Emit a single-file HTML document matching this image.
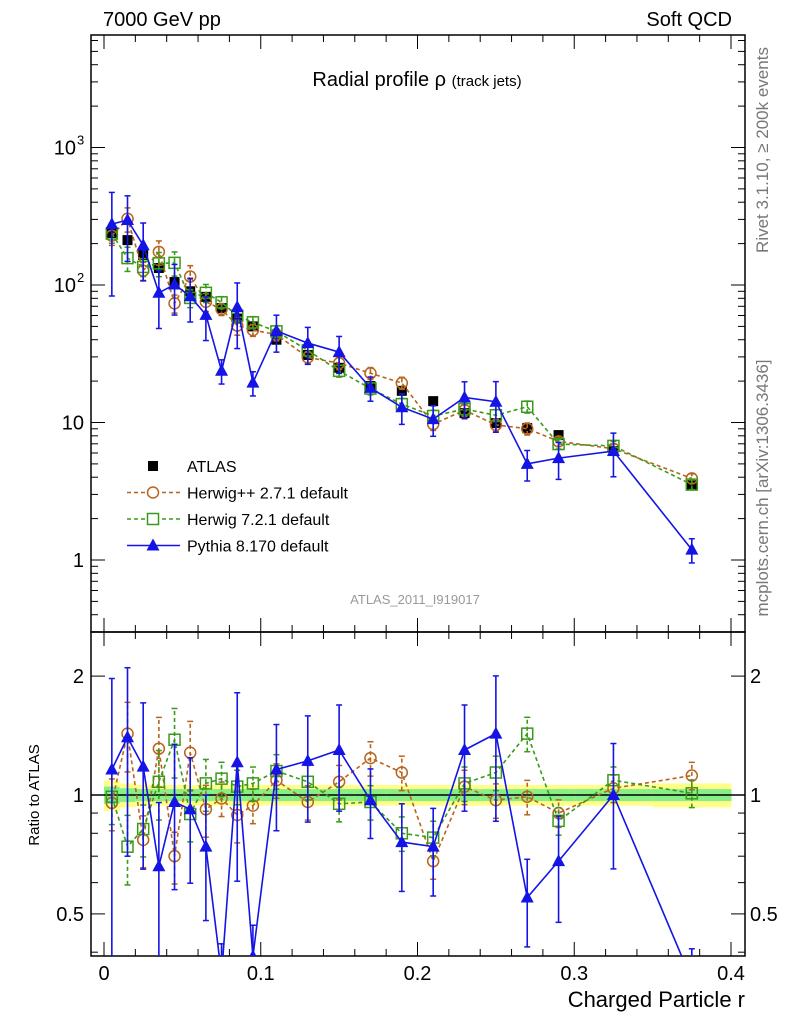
<!DOCTYPE html>
<html><head><meta charset="utf-8"><style>
body{margin:0;background:#fff;}
svg{display:block;font-family:"Liberation Sans","DejaVu Sans",sans-serif;}
</style></head><body>
<svg id="c" width="786" height="1024" viewBox="0 0 786 1024"></svg>
<script>
const xCenters=[0.005,0.015,0.025,0.035,0.045,0.055,0.065,0.075,0.085,0.095,0.11,0.13,0.15,0.17,0.19,0.21,0.23,0.25,0.27,0.29,0.325,0.375];
const atlasVals=[239,212,165,133,105,90,82,68,57,50,40,31,25,18.4,17,14.3,11.7,9.9,9.1,8.1,6.2,3.5];
const herwigppRatio=[0.955,1.43,0.77,1.31,0.70,1.28,0.92,0.98,0.89,0.94,1.09,0.96,1.08,1.24,1.14,0.68,1.05,0.97,0.99,0.9,1.04,1.12];
const herwig7Ratio=[0.99,0.74,0.82,1.08,1.38,0.895,1.07,1.1,1.05,1.07,1.15,1.08,0.95,0.96,0.8,0.78,1.07,1.14,1.43,0.86,1.09,1.01];
const pythiaRatio=[1.16,1.4,1.18,0.66,0.96,0.92,0.74,0.35,1.21,0.39,1.16,1.22,1.3,0.97,0.76,0.74,1.3,1.43,0.55,0.68,1.0,0.34];
const pythiaErr=[0.7,0.5,0.45,0.45,0.4,0.35,0.35,0.2,0.5,0.2,0.3,0.3,0.3,0.2,0.25,0.25,0.3,0.4,0.25,0.3,0.35,0.2];
const herwigppErr=[0.15,0.2,0.15,0.2,0.15,0.2,0.15,0.1,0.15,0.1,0.1,0.1,0.1,0.1,0.1,0.1,0.1,0.1,0.1,0.08,0.08,0.08];
const herwig7Err=[0.15,0.2,0.15,0.2,0.2,0.15,0.15,0.1,0.1,0.1,0.1,0.1,0.1,0.1,0.1,0.1,0.1,0.1,0.1,0.08,0.08,0.08];
const bandYellow=[0.09,0.07,0.06,0.06,0.06,0.06,0.06,0.06,0.06,0.06,0.06,0.06,0.06,0.06,0.06,0.06,0.06,0.06,0.06,0.06,0.06,0.07];
const bandGreen=[0.05,0.04,0.035,0.035,0.035,0.035,0.035,0.035,0.035,0.035,0.035,0.035,0.035,0.035,0.035,0.035,0.035,0.035,0.035,0.035,0.035,0.035];
const binEdges=[0,0.01,0.02,0.03,0.04,0.05,0.06,0.07,0.08,0.09,0.1,0.12,0.14,0.16,0.18,0.2,0.22,0.24,0.26,0.28,0.3,0.35,0.4];
const xTicks=[0,0.1,0.2,0.3,0.4];

const L=91,R=745,T=35,M=632,B=956;
const X=v=>104+v*1567.5;
const Y=v=>560-Math.log10(v)*137.5;
const YR=v=>795-Math.log10(v)*395;
const svg=document.getElementById('c');
const NS='http://www.w3.org/2000/svg';
function mk(tag,a,parent){const e=document.createElementNS(NS,tag);for(const k in a)e.setAttribute(k,a[k]);(parent||svg).appendChild(e);return e;}
function txt(s,x,y,size,anchor,parent,fill){const e=mk('text',{x:x,y:y,'font-size':size,'text-anchor':anchor||'start',fill:fill||'#000'},parent);e.textContent=s;return e;}

const defs=mk('defs',{});
const c1=mk('clipPath',{id:'cm'},defs);mk('rect',{x:L,y:T,width:R-L,height:M-T},c1);
const c2=mk('clipPath',{id:'cr'},defs);mk('rect',{x:L,y:M,width:R-L,height:B-M},c2);

const band=mk('g',{'clip-path':'url(#cr)'});


for(let i=0;i<xCenters.length;i++){
  const x0=X(binEdges[i]),x1=X(binEdges[i+1]);
  mk('rect',{x:x0,y:YR(1+bandYellow[i]),width:x1-x0+0.5,height:YR(1-bandYellow[i])-YR(1+bandYellow[i]),fill:'#ffff88'},band);
  mk('rect',{x:x0,y:YR(1+bandGreen[i]),width:x1-x0+0.5,height:YR(1-bandGreen[i])-YR(1+bandGreen[i]),fill:'#88ee88'},band);
}
mk('line',{x1:L,x2:R,y1:YR(1),y2:YR(1),stroke:'#000','stroke-width':1.5});

const f1=mk('rect',{x:L,y:T,width:R-L,height:M-T,fill:'none',stroke:'#000','stroke-width':1.5});

const f2=mk('rect',{x:L,y:M,width:R-L,height:B-M,fill:'none',stroke:'#000','stroke-width':1.5});


for(let d=-1;d<=3;d++){for(let m=1;m<10;m++){const v=m*Math.pow(10,d);const y=Y(v);if(y<T||y>M)continue;const len=m==1?14:7;
 mk('line',{x1:L,x2:L+len,y1:y,y2:y,stroke:'#000'});mk('line',{x1:R,x2:R-len,y1:y,y2:y,stroke:'#000'});}}
const yl=mk('g',{});
txt('1',84,Y(1)+7,20,'end',yl);txt('10',84,Y(10)+7,20,'end',yl);
txt('10',76,Y(100)+7,20,'end',yl);txt('2',77,Y(100)-3,13,'start',yl);
txt('10',76,Y(1000)+7,20,'end',yl);txt('3',77,Y(1000)-3,13,'start',yl);
[0.4,0.5,0.6,0.7,0.8,0.9,1,2].forEach(v=>{const y=YR(v);const len=(v==1||v==2||v==0.5)?14:7;mk('line',{x1:L,x2:L+len,y1:y,y2:y,stroke:'#000'});mk('line',{x1:R,x2:R-len,y1:y,y2:y,stroke:'#000'});});
[[2,'2'],[1,'1'],[0.5,'0.5']].forEach(p=>{txt(p[1],84,YR(p[0])+7,20,'end');txt(p[1],750,YR(p[0])+7,20,'start');});
for(let v=0;v<=0.4001;v+=0.02){const x=X(v);const maj=Math.abs(v*10-Math.round(v*10))<1e-6;const len=maj?14:7;
 [[B,-1],[M,1],[M,-1],[T,1]].forEach(p=>mk('line',{x1:x,x2:x,y1:p[0],y2:p[0]+p[1]*len,stroke:'#000'}));}
const xl=mk('g',{});
xTicks.forEach(v=>txt(v===0?'0':String(v),X(v),980,20,'middle',xl));

function series(vals,errs,color,dash,marker,name,clip,yf,noLine){
  const g=mk('g',{'clip-path':'url(#'+clip+')'});
  
  if(!noLine){let d='';vals.forEach((v,i)=>{d+=(i?'L':'M')+X(xCenters[i])+','+yf(v);});
  mk('path',{d:d,fill:'none',stroke:color,'stroke-width':1.6,'stroke-dasharray':dash||'none'},g);}
  vals.forEach((v,i)=>{const x=X(xCenters[i]);
    if(errs){const lo=Math.max(v*(1-errs[i]),1e-3),hi=v*(1+errs[i]);
      mk('line',{x1:x,x2:x,y1:yf(lo),y2:yf(hi),stroke:color,'stroke-width':1.6,'stroke-dasharray':dash||'none'},g);
      mk('line',{x1:x-3,x2:x+3,y1:yf(lo),y2:yf(lo),stroke:color,'stroke-width':1.5},g);
      mk('line',{x1:x-3,x2:x+3,y1:yf(hi),y2:yf(hi),stroke:color,'stroke-width':1.5},g);}
    const y=yf(v);
    if(marker=='circle')mk('circle',{cx:x,cy:y,r:5.5,fill:'none',stroke:color,'stroke-width':1.5},g);
    else if(marker=='square')mk('rect',{x:x-5.5,y:y-5.5,width:11,height:11,fill:'none',stroke:color,'stroke-width':1.5},g);
    else if(marker=='tri')mk('polygon',{points:(x)+','+(y-7)+' '+(x-6.5)+','+(y+5)+' '+(x+6.5)+','+(y+5),fill:color},g);
    else if(marker=='fsq')mk('rect',{x:x-5,y:y-5,width:10,height:10,fill:'#000'},g);
  });
}
const hpp=atlasVals.map((v,i)=>v*herwigppRatio[i]);
const h7=atlasVals.map((v,i)=>v*herwig7Ratio[i]);
const py=atlasVals.map((v,i)=>v*pythiaRatio[i]);
const aErr=atlasVals.map(()=>0.05);
series(atlasVals,aErr,'#000',null,'fsq','atlas-data','cm',Y,true);
series(hpp,herwigppErr,'#b8641e','4,3','circle','herwigpp-series','cm',Y);
series(h7,herwig7Err,'#3a9a1a','4,3','square','herwig7-series','cm',Y);
series(py,pythiaErr,'#1414e6',null,'tri','pythia-series','cm',Y);
series(herwigppRatio,herwigppErr,'#b8641e','4,3','circle','herwigpp-ratio','cr',YR);
series(herwig7Ratio,herwig7Err,'#3a9a1a','4,3','square','herwig7-ratio','cr',YR);
series(pythiaRatio,pythiaErr,'#1414e6',null,'tri','pythia-ratio','cr',YR);

let e;
e=txt('7000 GeV pp',103,26,20,'start');
e=txt('Soft QCD',732,26,20,'end');
e=mk('text',{x:417,y:86,'font-size':20,'text-anchor':'middle'});e.innerHTML='Radial profile ρ <tspan font-size="15">(track jets)</tspan>';

e=txt('ATLAS_2011_I919017',415,604,13,'middle',null,'#999');
e=txt('Rivet 3.1.10, ≥ 200k events',0,0,17,'middle',null,'#777');e.setAttribute('transform','translate(768,150) rotate(-90)');

e=txt('mcplots.cern.ch [arXiv:1306.3436]',0,0,17,'middle',null,'#777');e.setAttribute('transform','translate(768,488) rotate(-90)');

e=txt('Ratio to ATLAS',0,0,15,'middle');e.setAttribute('transform','translate(39,795) rotate(-90)');

e=txt('Charged Particle r',745,1007,22,'end');

const lg=mk('g',{});
const items=[['ATLAS','#000',null,'fsq'],['Herwig++ 2.7.1 default','#b8641e','4,3','circle'],['Herwig 7.2.1 default','#3a9a1a','4,3','square'],['Pythia 8.170 default','#1414e6',null,'tri']];
items.forEach((it,i)=>{const y=466+i*26.5;const g=mk('g',{},lg);
 
 if(i>0)mk('line',{x1:127,x2:180,y1:y,y2:y,stroke:it[1],'stroke-width':1.6,'stroke-dasharray':it[2]||'none'},g);
 const x=153;
 if(it[3]=='fsq')mk('rect',{x:x-5,y:y-5,width:10,height:10,fill:'#000'},g);
 if(it[3]=='circle')mk('circle',{cx:x,cy:y,r:5.5,fill:'#fff',stroke:it[1],'stroke-width':1.5},g);
 if(it[3]=='square')mk('rect',{x:x-5.5,y:y-5.5,width:11,height:11,fill:'#fff',stroke:it[1],'stroke-width':1.5},g);
 if(it[3]=='tri')mk('polygon',{points:x+','+(y-7)+' '+(x-6.5)+','+(y+5)+' '+(x+6.5)+','+(y+5),fill:it[1]},g);
 txt(it[0],187,y+6,16,'start',g);});
</script>
</body></html>
